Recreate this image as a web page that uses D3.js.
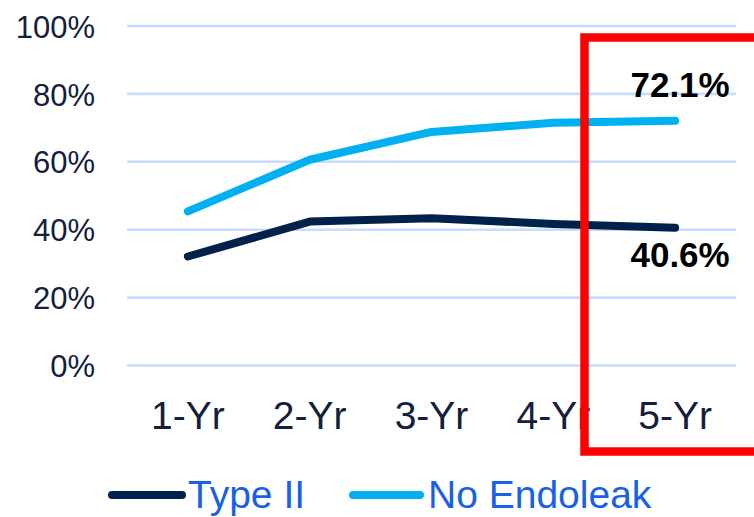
<!DOCTYPE html>
<html>
<head>
<meta charset="utf-8">
<script src="https://cdn.jsdelivr.net/npm/d3@7"></script>
<style>
  html, body { margin: 0; padding: 0; background: #fff; }
  svg { display: block; font-family: "Liberation Sans", Arial, sans-serif; }
</style>
</head>
<body>
<svg id="chart" width="754" height="517"></svg>
<script>
// Survival by follow-up year, per endoleak group
const categories = ["1-Yr", "2-Yr", "3-Yr", "4-Yr", "5-Yr"];
const typeII = [0.321, 0.424, 0.434, 0.417, 0.406];
const noEndoleak = [0.454, 0.606, 0.688, 0.715, 0.721];
const yTicks = [0, 0.2, 0.4, 0.6, 0.8, 1.0];
const seriesNames = ["Type II", "No Endoleak"];
const seriesColors = ["#00214a", "#00b0f0"];

const svg = d3.select("#chart");

const x = d3.scaleBand().domain(categories).range([127, 736]);
const y = d3.scaleLinear().domain([0, 1]).range([365.5, 26]);
const cx = d => x(d) + x.bandwidth() / 2;

// Horizontal gridlines
svg.append("g")
  .selectAll("line")
  .data(yTicks)
  .join("line")
  .attr("x1", 127).attr("x2", 736)
  .attr("y1", d => y(d)).attr("y2", d => y(d))
  .attr("stroke", "#c8dcfb")
  .attr("stroke-width", 2.6);

// Y axis labels
const yAxis = d3.axisLeft(y).tickValues(yTicks).tickFormat(d3.format(".0%")).tickSize(0).tickPadding(0);
svg.append("g")
  .attr("transform", "translate(95,0)")
  .call(yAxis)
  .call(g => g.select(".domain").remove())
  .call(g => g.selectAll("text")
    .attr("font-size", 31)
    .attr("font-family", "Liberation Sans, Arial, sans-serif")
    .attr("fill", "#13203d")
    .attr("dy", "0.36em"));

// X axis labels
const xAxis = d3.axisBottom(x).tickSize(0).tickPadding(0);
svg.append("g")
  .attr("transform", "translate(0,429)")
  .call(xAxis)
  .call(g => g.select(".domain").remove())
  .call(g => g.selectAll("text")
    .attr("font-size", 39)
    .attr("font-family", "Liberation Sans, Arial, sans-serif")
    .attr("fill", "#13203d")
    .attr("dy", 0));

// Series lines
const line = d3.line().x((d, i) => cx(categories[i])).y(d => y(d));
[typeII, noEndoleak].forEach((vals, i) => {
  svg.append("path")
    .datum(vals)
    .attr("d", line)
    .attr("fill", "none")
    .attr("stroke", seriesColors[i])
    .attr("stroke-width", 8)
    .attr("stroke-linecap", "round")
    .attr("stroke-linejoin", "round");
});

// Final-year value labels
const last = categories.length - 1;
const fmt = d3.format(".1%");
svg.append("text")
  .attr("x", cx(categories[last]) + 5)
  .attr("y", y(noEndoleak[last]) - 24)
  .attr("text-anchor", "middle")
  .attr("font-size", 35)
  .attr("font-weight", "bold")
  .attr("fill", "#000")
  .text(fmt(noEndoleak[last]));
svg.append("text")
  .attr("x", cx(categories[last]) + 5)
  .attr("y", y(typeII[last]) + 39)
  .attr("text-anchor", "middle")
  .attr("font-size", 35)
  .attr("font-weight", "bold")
  .attr("fill", "#000")
  .text(fmt(typeII[last]));

// Highlight box around the final year
svg.append("rect")
  .attr("x", 584.5).attr("y", 37.5)
  .attr("width", 200).attr("height", 414)
  .attr("fill", "none")
  .attr("stroke", "#ff0000")
  .attr("stroke-width", 8.5);

// Legend
const legendItems = [
  { name: seriesNames[0], color: seriesColors[0], x1: 112, x2: 182, tx: 188 },
  { name: seriesNames[1], color: seriesColors[1], x1: 353, x2: 420, tx: 428 }
];
const lg = svg.append("g");
legendItems.forEach(it => {
  lg.append("line")
    .attr("x1", it.x1).attr("x2", it.x2)
    .attr("y1", 495).attr("y2", 495)
    .attr("stroke", it.color)
    .attr("stroke-width", 8)
    .attr("stroke-linecap", "round");
  lg.append("text")
    .attr("x", it.tx).attr("y", 508)
    .attr("font-size", 39)
    .attr("fill", "#1a60e6")
    .text(it.name);
});
</script>
</body>
</html>
